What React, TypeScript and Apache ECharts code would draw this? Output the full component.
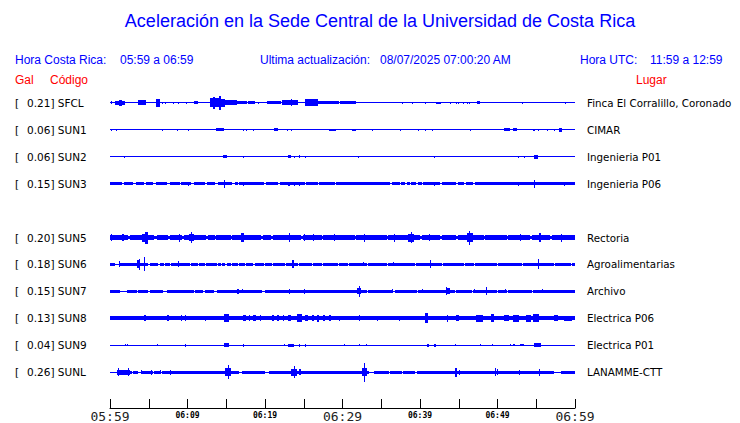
import React, { useEffect, useRef } from "react";
import * as echarts from "echarts";

// ---------- data ----------
const stations = ["SFCL", "SUN1", "SUN2", "SUN3", "SUN5", "SUN6", "SUN7", "SUN8", "SUN9", "SUNL"];
const peakGal = [0.21, 0.06, 0.06, 0.15, 0.2, 0.18, 0.15, 0.13, 0.04, 0.26];
const places = [
  "Finca El Corralillo, Coronado",
  "CIMAR",
  "Ingenieria P01",
  "Ingenieria P06",
  "Rectoria",
  "Agroalimentarias",
  "Archivo",
  "Electrica P06",
  "Electrica P01",
  "LANAMME-CTT",
];
// slot on the vertical scale (slot 4 = SUN4, no data)
const rowSlots = [0, 1, 2, 3, 5, 6, 7, 8, 9, 10];
// background noise half-amplitude per station (relative units, 27 = one row)
const baseNoise = [0.5, 0.5, 0.5, 1.5, 2.5, 1.3, 1.3, 1.8, 0.5, 1.5];

// segments: [startMinute, endMinute, halfAmplitude]
const sfclSegs = [
  [0.6, 1.9, 2], [1.2, 1.5, 3], [3.6, 4.7, 2.7], [5.9, 6.4, 4], [10.9, 11.3, 1.5],
  [12.9, 13.3, 4.5], [13.3, 13.5, 6], [13.5, 14.1, 4.5], [14.1, 14.3, 7], [14.3, 14.9, 4],
  [14.9, 16.4, 2.7], [16.4, 17.7, 1.5], [17.85, 18.75, 1.5], [20.3, 22.0, 1.7], [22.2, 24.3, 2.3],
  [23.3, 23.45, 3.5], [25.2, 26.9, 3.3], [26.9, 29.5, 1.7], [29.7, 31.7, 1.3], [42.0, 42.7, 1.2],
  [47.3, 47.7, 1.3],
];
const sfclTicks = [
  [0.15, 1.5], [6.7, 1.2], [7.1, 1.2], [8.1, 1], [8.75, 1], [9.8, 1], [19.1, 1.2], [37.7, 1], [39.0, 1],
  [40.6, 1], [43.9, 1], [44.6, 1], [44.9, 1], [45.6, 1.2], [46.0, 1], [46.3, 1], [53.2, 1], [58.7, 1],
];
const sun1Segs = [
  [13.7, 14.7, 1.5], [21.1, 21.7, 1.5], [28.3, 29.1, 1], [31.2, 31.8, 1], [50.8, 51.6, 1.5],
  [52.0, 52.5, 1.5], [54.6, 54.8, 1], [57.9, 58.3, 2],
];
const sun1Ticks = [
  [0.13, 1], [0.78, 1], [6.7, 1], [8.7, 1], [10.0, 1], [17.2, 1], [17.5, 1], [18.5, 1], [22.8, 1],
  [23.3, 1], [33.8, 1], [37.4, 1], [39.7, 1], [40.6, 1], [41.6, 1], [46.4, 1], [55.2, 1], [56.4, 1],
  [57.3, 1],
];
const sun2Segs = [[14.6, 15.1, 1.5], [23.0, 23.4, 1.3], [24.35, 24.5, 1.5], [54.7, 55.2, 2]];
const sun2Ticks = [[1.85, 1], [17.2, 1], [23.8, 1], [25.1, 1], [32.0, 1], [41.8, 1], [52.7, 1], [53.45, 1]];
const sun3Segs = [
  [1.5, 1.8, 0.5], [3.0, 3.3, 0.5], [4.4, 4.6, 0.5], [5.6, 5.9, 0.5], [7.3, 7.7, 0.5], [9.0, 9.2, 0.5],
  [10.5, 10.8, 0.5], [12.2, 12.5, 0.5], [13.6, 13.9, 0.5], [15.8, 16.1, 0.5], [16.5, 16.7, 0.5],
  [19.9, 20.1, 0.5], [21.7, 21.9, 0.5], [25.1, 25.3, 0.5], [26.8, 27.0, 0.5], [29.0, 29.2, 0.5],
  [36.1, 36.4, 0.5], [37.4, 37.6, 0.5], [38.1, 38.3, 0.5], [38.7, 38.9, 0.5], [39.5, 39.7, 0.5],
  [40.2, 40.4, 0.5], [42.6, 42.8, 0.5], [44.7, 44.9, 0.5], [45.7, 45.9, 0.5], [46.9, 47.1, 0.5],
  [54.65, 54.85, 3],
];
const sun3Ticks = [
  [10.1, 2], [14.65, 4], [17.2, 2], [23.0, 2], [23.1, 2], [23.7, 2], [24.35, 2], [41.8, 2], [52.7, 2],
  [54.75, 4], [58.6, 2],
];
const sun5Segs = [
  [0.1, 0.3, 3.5], [1.5, 1.8, 3.5], [2.3, 2.6, 1.5], [4.1, 4.5, 4], [4.5, 4.9, 6], [5.7, 6.0, 1.5],
  [7.5, 7.7, 1.5], [9.3, 9.5, 1.5], [10.2, 10.8, 3.5], [10.4, 10.6, 5.5], [12.4, 12.7, 1.5],
  [13.5, 13.7, 1.5], [15.6, 15.8, 1.5], [16.9, 17.3, 4.5], [19.5, 19.8, 1.5], [20.8, 21.0, 1.5],
  [24.7, 24.9, 1.5], [27.3, 27.5, 1.5], [31.6, 31.8, 1.5], [35.7, 35.9, 1.5], [38.4, 39.2, 4],
  [38.85, 39.0, 5.5], [40.0, 40.2, 1.5], [42.6, 42.8, 1.5], [44.7, 44.9, 1.5], [46.0, 46.8, 4.5],
  [46.3, 46.5, 7], [48.2, 48.4, 1.5], [51.2, 51.4, 1.5], [54.2, 54.4, 1.5], [55.4, 55.6, 4.5],
  [56.8, 57.0, 1.5],
];
const sun5Ticks = [
  [8.9, 4], [23.1, 4.5], [25.0, 3.5], [26.2, 3.5], [28.9, 3.5], [32.8, 4], [36.6, 4], [41.2, 3.5],
  [52.9, 3.5], [58.2, 4],
];
const sun6Segs = [
  [0.65, 1.1, 0.5], [3.5, 3.9, 4], [3.7, 3.8, 5.5], [4.95, 5.1, 0.5], [6.2, 6.4, 0.5], [7.0, 7.15, 0.5],
  [7.7, 7.85, 0.5], [10.3, 10.5, 0.5], [11.35, 11.5, 0.5], [12.25, 12.4, 0.5], [13.75, 13.9, 0.5],
  [14.3, 14.45, 0.5], [14.9, 15.05, 0.5], [15.65, 15.8, 0.5], [16.55, 16.7, 0.5], [17.4, 17.55, 0.5],
  [18.5, 18.65, 0.5], [19.9, 20.05, 0.5], [20.85, 21.0, 0.5], [22.55, 22.7, 0.5], [23.5, 23.7, 4],
  [24.3, 24.45, 0.5], [26.05, 26.2, 0.5], [27.35, 27.5, 0.5], [29.45, 29.6, 0.5], [30.75, 30.9, 0.5],
  [33.15, 33.3, 0.5], [35.75, 35.9, 0.5], [39.35, 39.5, 0.5], [42.85, 43.0, 0.5], [45.65, 45.8, 0.5],
  [46.95, 47.1, 0.5], [49.95, 50.1, 0.5], [53.15, 53.3, 0.5], [57.25, 57.4, 0.5], [59.45, 59.6, 0.5],
];
const sun6Ticks = [[1.15, 3], [4.4, 7], [8.8, 3], [32.7, 2], [36.5, 2], [41.3, 4], [55.2, 5]];
const sun7Segs = [
  [1.3, 2.15, 0.5], [3.45, 3.65, 0.5], [4.95, 5.2, 0.5], [6.9, 7.3, 0.5], [10.8, 11.0, 0.5],
  [12.05, 12.3, 0.5], [13.4, 13.8, 0.5], [16.4, 16.6, 2.5], [19.6, 20.05, 0.5], [31.9, 32.4, 3],
  [33.1, 33.3, 0.5], [36.55, 36.75, 0.5], [39.55, 39.75, 0.5], [43.4, 43.9, 3], [44.5, 44.7, 0.5],
  [46.7, 46.9, 0.5], [49.9, 50.1, 0.5], [51.2, 51.4, 0.5], [54.4, 54.6, 0.5],
];
const sun7Ticks = [
  [17.0, 2.2], [23.1, 2.5], [25.0, 2.5], [32.1, 5.3], [36.4, 2], [40.2, 2], [43.3, 4], [47.0, 2],
  [48.55, 4], [51.0, 1.8], [55.7, 1.8],
];
const sun8Segs = [
  [4.4, 4.6, 3], [7.3, 7.6, 3], [14.65, 15.3, 4], [17.2, 17.5, 3], [18.5, 18.8, 3.2], [19.3, 19.5, 3],
  [20.9, 21.2, 3], [21.6, 21.8, 3], [22.3, 22.5, 3.2], [23.0, 23.3, 3], [24.1, 24.8, 4], [25.2, 25.5, 3],
  [26.0, 26.3, 3], [26.7, 27.0, 3.5], [27.5, 27.7, 3], [28.2, 28.5, 3], [40.7, 41.0, 5], [44.6, 45.0, 3],
  [47.2, 48.1, 3.5], [49.1, 49.5, 4], [50.9, 51.5, 3], [52.0, 52.8, 3.3], [53.7, 54.3, 3.3],
  [54.6, 55.4, 3.8], [57.3, 57.8, 3], [58.6, 59.6, 2.5],
];
const sun8Ticks = [
  [9.1, 3], [9.7, 3], [12.2, 2.5], [17.9, 3], [29.6, 2.5], [32.1, 3], [34.5, 2.5], [37.3, 2.5],
  [40.8, 5], [43.5, 3.5],
];
const sun9Segs = [
  [14.65, 15.3, 2], [23.0, 23.7, 1.5], [40.9, 41.1, 1.3], [41.8, 42.0, 1.3], [52.0, 52.3, 1.2],
  [52.9, 53.4, 1.2], [54.7, 55.6, 1.8],
];
const sun9Ticks = [
  [1.9, 1.2], [2.2, 1.2], [6.1, 1.2], [9.7, 1.3], [17.2, 1.5], [22.4, 1.2], [24.35, 1.3], [25.1, 1.3],
  [30.2, 1.2], [32.1, 1.2], [33.0, 1.2], [44.5, 1.2], [47.8, 1.2], [49.3, 1.2], [51.6, 1.2],
];
const sunlSegs = [
  [0, 0.9, 0.5], [0.9, 2.6, 2.5], [1.0, 1.2, 3.8], [2.3, 2.5, 3.8], [2.8, 3.0, 0.5], [3.65, 4.1, 0.5],
  [5.55, 5.7, 0.5], [6.45, 6.7, 0.5], [14.9, 15.6, 4], [16.6, 17.0, 0.5], [20.05, 20.5, 0.5],
  [23.4, 24.1, 3.5], [24.4, 24.6, 3], [32.5, 33.1, 4], [33.4, 34.0, 0.5], [35.95, 36.1, 0.5],
  [37.65, 37.8, 0.5], [39.4, 39.55, 0.5], [44.5, 44.7, 4.3], [45.0, 45.2, 2.5], [49.9, 50.0, 3],
  [55.3, 55.5, 3.5], [57.3, 58.2, 0.5],
];
const sunlTicks = [
  [3.95, 2], [5.3, 2.5], [6.5, 2], [7.7, 2.5], [15.25, 7], [23.8, 6], [32.8, 9.5], [44.6, 4.3],
  [49.7, 4], [52.8, 2.5], [55.4, 3.5],
];

const segments = [sfclSegs, sun1Segs, sun2Segs, sun3Segs, sun5Segs, sun6Segs, sun7Segs, sun8Segs, sun9Segs, sunlSegs];
const ticks = [sfclTicks, sun1Ticks, sun2Ticks, sun3Ticks, sun5Ticks, sun6Ticks, sun7Ticks, sun8Ticks, sun9Ticks, sunlTicks];

const timeLabels = ["05:59", "06:09", "06:19", "06:29", "06:39", "06:49", "06:59"];
const bigLabelMinutes = [0, 30, 60];

const header = {
  title: "Aceleración en la Sede Central de la Universidad de Costa Rica",
  crLabel: "Hora Costa Rica:",
  crRange: "05:59 a 06:59",
  updLabel: "Ultima actualización:",
  updValue: "08/07/2025 07:00:20 AM",
  utcLabel: "Hora UTC:",
  utcRange: "11:59 a 12:59",
};

// ---------- rendering helpers ----------
const BLUE = "#0000ff";
const ROW_UNITS = 27;

function buildRuns(base: number, segs: number[][]): number[][] {
  const pts = Array.from(new Set([0, 60, ...segs.flatMap((s) => [s[0], s[1]])])).sort((a, b) => a - b);
  const out: number[][] = [];
  for (let i = 0; i < pts.length - 1; i++) {
    const a = pts[i];
    const b = pts[i + 1];
    if (b <= a) continue;
    const mid = (a + b) / 2;
    let amp = base;
    let mx = -Infinity;
    for (const s of segs) if (s[0] <= mid && mid <= s[1]) mx = Math.max(mx, s[2]);
    if (mx > -Infinity) amp = mx;
    const last = out[out.length - 1];
    if (last && last[2] === amp && last[1] === a) last[1] = b;
    else out.push([a, b, amp]);
  }
  return out;
}

export default function App() {
  const ref = useRef<HTMLDivElement>(null);
  useEffect(() => {
    if (!ref.current) return;
    const chart = echarts.init(ref.current, undefined, { renderer: "svg" });
    const runsAll = stations.map((_, i) => buildRuns(baseNoise[i], segments[i]));

    const renderItem = (params: any, api: any) => {
      const i = params.dataIndex;
      const row = api.value(1);
      const p0 = api.coord([0, row]);
      const p1 = api.coord([0, row + 1]);
      const k = Math.abs(p1[1] - p0[1]) / ROW_UNITS;
      const by = p0[1];
      const children: any[] = [];
      const mk = (a: number, b: number, amp: number) => {
        const x1 = Math.round(api.coord([a, row])[0]);
        const x2 = Math.round(api.coord([b, row])[0]);
        const h = Math.max(1, Math.round(2 * amp * k));
        const top = Math.round(by - h / 2);
        return {
          type: "rect",
          shape: { x: x1, y: top, width: Math.max(1, x2 - x1), height: h },
          style: { fill: BLUE },
        };
      };
      runsAll[i].forEach((r) => children.push(mk(r[0], r[1], r[2])));
      ticks[i].forEach((t) => children.push(mk(t[0], t[0], t[1])));
      const font = '10.5px "DejaVu Sans"';
      children.push({
        type: "text",
        style: { text: "[", x: 15, y: by, font, fill: "#000", textAlign: "left", textVerticalAlign: "middle" },
      });
      children.push({
        type: "text",
        style: {
          text: peakGal[i].toFixed(2) + "] " + stations[i],
          x: 27,
          y: by,
          font,
          fill: "#000",
          textAlign: "left",
          textVerticalAlign: "middle",
        },
      });
      children.push({
        type: "text",
        style: { text: places[i], x: 587, y: by, font: '10.3px "DejaVu Sans"', fill: "#000", textAlign: "left", textVerticalAlign: "middle" },
      });
      return { type: "group", children };
    };

    const hdrFont = '12px "Liberation Sans", Arial, sans-serif';
    const txt = (text: string, x: number, y: number, fill: string, font = hdrFont, align = "left") => ({
      type: "text",
      x,
      y,
      style: { text, font, fill, textAlign: align, textVerticalAlign: "middle" },
    });

    chart.setOption({
      animation: false,
      backgroundColor: "#fff",
      grid: { left: 110, right: 165, top: 76, bottom: 14 },
      xAxis: {
        type: "value",
        min: 0,
        max: 60,
        interval: 5,
        splitLine: { show: false },
        axisLine: { show: true, onZero: false, lineStyle: { color: "#000", width: 1 } },
        axisTick: { show: true, inside: true, length: 9, lineStyle: { color: "#000" } },
        axisLabel: {
          margin: 2,
          verticalAlign: "top",
          formatter: (v: number) => {
            if (v % 10 !== 0) return "";
            const lab = timeLabels[v / 10];
            return bigLabelMinutes.includes(v) ? `{big|${lab}}` : `{small|${lab}}`;
          },
          rich: {
            big: { fontSize: 13, fontFamily: "DejaVu Sans Mono", color: "#222" },
            small: { fontSize: 8, fontFamily: "DejaVu Sans Mono", fontWeight: "bold", color: "#000", padding: [1, 0, 0, 0] },
          },
        },
      },
      yAxis: { type: "value", min: -1, max: 34 / 3, inverse: true, show: false },
      graphic: [
        txt(header.title, 380, 21, BLUE, '18px "Liberation Sans", Arial, sans-serif', "center"),
        txt(header.crLabel, 15, 60, BLUE),
        txt(header.crRange, 120, 60, BLUE),
        txt(header.updLabel, 260, 60, BLUE),
        txt(header.updValue, 380, 60, BLUE),
        txt(header.utcLabel, 580, 60, BLUE),
        txt(header.utcRange, 650, 60, BLUE),
        txt("Gal", 15, 80, "#ff0000"),
        txt("Código", 50, 80, "#ff0000"),
        txt("Lugar", 636, 80, "#ff0000"),
      ],
      series: [
        {
          type: "custom",
          silent: true,
          renderItem,
          encode: { x: 0, y: 1 },
          data: rowSlots.map((r) => [0, r]),
        },
      ],
    });
    return () => chart.dispose();
  }, []);
  return <div ref={ref} style={{ width: 740, height: 423, position: "absolute", left: 0, top: 0 }} />;
}
